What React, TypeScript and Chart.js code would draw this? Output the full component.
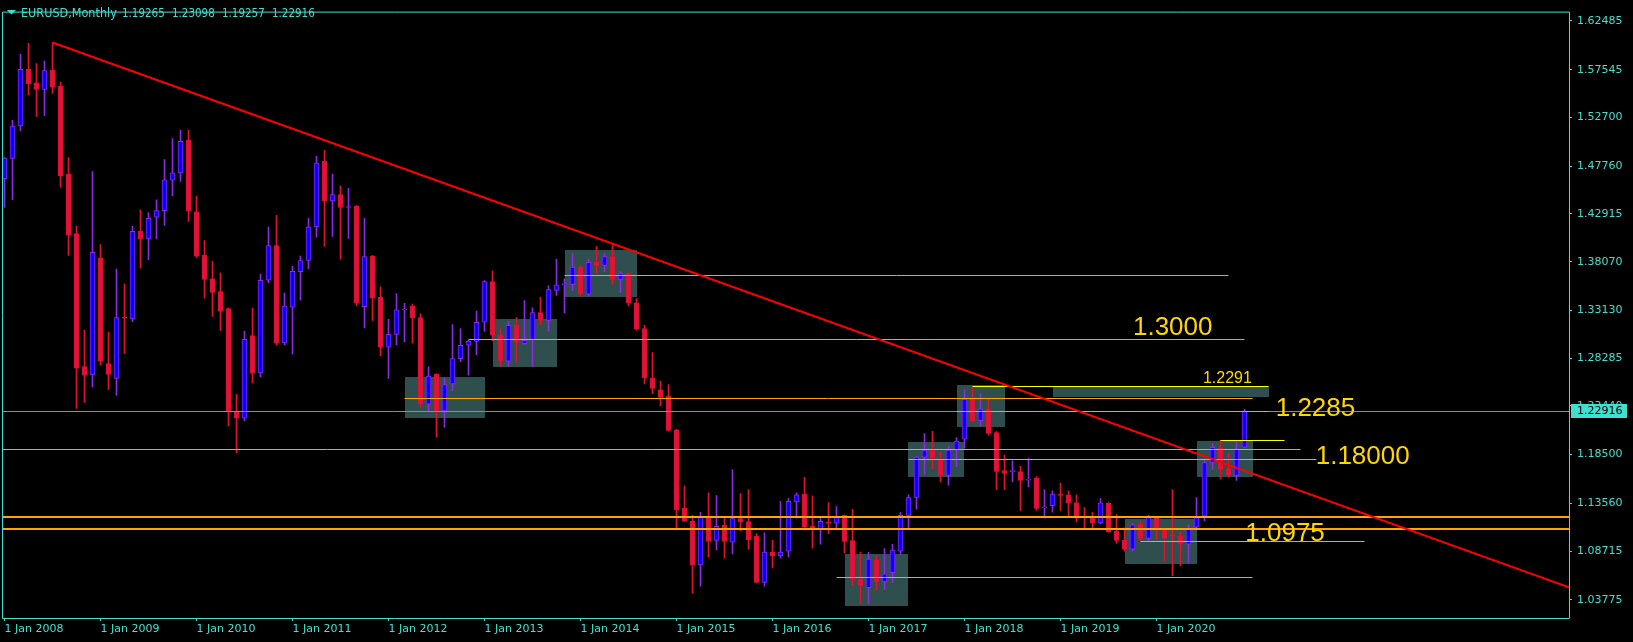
import React, { useEffect, useRef } from "react";
import { Chart, registerables } from "chart.js";

Chart.register(...registerables);

// ---------- DATA (EURUSD monthly, Jan 2008 .. Dec 2020) ----------
const opens = [
  1.4648, 1.4854, 1.5185, 1.5758, 1.562, 1.5553, 1.575, 1.5588, 1.4692, 1.4092, 1.2742, 1.2658,
  1.3843, 1.2773, 1.2623, 1.3239, 1.3227, 1.4115, 1.4037, 1.4258, 1.4325, 1.4633, 1.4708, 1.5039,
  1.4313, 1.3871, 1.3634, 1.3504, 1.333, 1.2284, 1.222, 1.3057, 1.2678, 1.3618, 1.3969, 1.2982,
  1.3346, 1.3705, 1.3819, 1.4159, 1.4826, 1.4423, 1.4487, 1.4356, 1.4368, 1.335, 1.3863, 1.3444,
  1.2939, 1.3069, 1.3318, 1.3357, 1.3239, 1.2362, 1.2666, 1.2292, 1.2568, 1.2824, 1.2959, 1.2998,
  1.3192, 1.3606, 1.3061, 1.2797, 1.316, 1.2974, 1.3018, 1.329, 1.3211, 1.3515, 1.3574, 1.3575,
  1.3752, 1.3476, 1.38, 1.3768, 1.3859, 1.3626, 1.3685, 1.3389, 1.3128, 1.2627, 1.2508, 1.2442,
  1.2102, 1.1304, 1.1174, 1.0732, 1.1217, 1.098, 1.1135, 1.0961, 1.1202, 1.117, 1.102, 1.0554,
  1.0858, 1.0823, 1.087, 1.1371, 1.145, 1.1123, 1.1095, 1.1162, 1.1154, 1.1233, 1.0977, 1.0586,
  1.0499, 1.0783, 1.0562, 1.0653, 1.087, 1.1233, 1.1415, 1.1825, 1.1897, 1.1798, 1.164, 1.1897,
  1.2007, 1.241, 1.2193, 1.2311, 1.2074, 1.1687, 1.1677, 1.1679, 1.1591, 1.1612, 1.131, 1.1332,
  1.145, 1.1442, 1.136, 1.1225, 1.1214, 1.1158, 1.1356, 1.1075, 1.098, 1.089, 1.1146, 1.1,
  1.1217, 1.1087, 1.1032, 1.102, 1.0941, 1.1115, 1.1225, 1.177, 1.1916, 1.1707, 1.164, 1.19265,
];
const highs = [
  1.4866, 1.5241, 1.5912, 1.6022, 1.5817, 1.5841, 1.603, 1.5628, 1.4862, 1.4167, 1.3113, 1.472,
  1.3981, 1.3093, 1.3732, 1.3582, 1.4167, 1.4333, 1.4305, 1.4435, 1.4842, 1.5055, 1.5142, 1.5142,
  1.4471, 1.4021, 1.3811, 1.3693, 1.3338, 1.2461, 1.3101, 1.3334, 1.3681, 1.4159, 1.4277, 1.3488,
  1.376, 1.3863, 1.4246, 1.4877, 1.4937, 1.4696, 1.4577, 1.455, 1.4376, 1.4246, 1.3871, 1.3551,
  1.3223, 1.3484, 1.3385, 1.3377, 1.3278, 1.2741, 1.267, 1.2627, 1.3168, 1.3128, 1.301, 1.3306,
  1.3614, 1.3713, 1.3128, 1.3199, 1.3239, 1.3413, 1.3338, 1.3448, 1.3563, 1.3831, 1.3634, 1.389,
  1.3772, 1.3831, 1.3961, 1.389, 1.3981, 1.3705, 1.3693, 1.3436, 1.316, 1.2884, 1.2595, 1.256,
  1.2106, 1.1533, 1.1233, 1.1265, 1.1462, 1.1435, 1.1217, 1.1699, 1.1454, 1.1494, 1.1048, 1.1056,
  1.0981, 1.1375, 1.1403, 1.1462, 1.162, 1.1431, 1.1206, 1.1363, 1.1324, 1.1237, 1.1296, 1.0862,
  1.0858, 1.0823, 1.0898, 1.0941, 1.1265, 1.1442, 1.183, 1.2062, 1.2086, 1.1877, 1.1936, 1.2023,
  1.2508, 1.2536, 1.2469, 1.241, 1.2086, 1.1845, 1.1786, 1.1731, 1.181, 1.1628, 1.1494, 1.1482,
  1.1561, 1.1482, 1.1442, 1.1312, 1.1265, 1.1403, 1.1363, 1.1241, 1.1107, 1.1154, 1.1178, 1.1233,
  1.1225, 1.1095, 1.1494, 1.1067, 1.1138, 1.1415, 1.1798, 1.1956, 1.1995, 1.1865, 1.1983, 1.23098,
];
const lows = [
  1.4356, 1.4435, 1.5134, 1.5501, 1.528, 1.5288, 1.5513, 1.4562, 1.3871, 1.2319, 1.2378, 1.2536,
  1.2757, 1.2509, 1.2449, 1.2876, 1.3199, 1.374, 1.3827, 1.4037, 1.4175, 1.4475, 1.4621, 1.4214,
  1.3847, 1.3436, 1.3251, 1.3109, 1.2141, 1.1869, 1.2193, 1.2576, 1.2639, 1.3594, 1.2963, 1.2963,
  1.2868, 1.3417, 1.3736, 1.4056, 1.3965, 1.4064, 1.3831, 1.4044, 1.3357, 1.3136, 1.3211, 1.2852,
  1.2623, 1.2963, 1.2994, 1.2982, 1.2331, 1.2284, 1.2027, 1.2126, 1.2497, 1.2793, 1.2655, 1.2864,
  1.31, 1.3002, 1.2745, 1.2745, 1.2785, 1.297, 1.2745, 1.3168, 1.3101, 1.3464, 1.3286, 1.3515,
  1.3456, 1.3456, 1.3693, 1.3705, 1.3575, 1.3496, 1.3357, 1.3113, 1.2568, 1.2469, 1.2343, 1.209,
  1.1087, 1.117, 1.0448, 1.0515, 1.0811, 1.0882, 1.0799, 1.0842, 1.1079, 1.089, 1.055, 1.0515,
  1.07, 1.0799, 1.0811, 1.1206, 1.1087, 1.0902, 1.0941, 1.1048, 1.1087, 1.085, 1.0523, 1.0337,
  1.0337, 1.0475, 1.0483, 1.0554, 1.0838, 1.1107, 1.1296, 1.1652, 1.1707, 1.1573, 1.1541, 1.1731,
  1.1916, 1.2185, 1.2141, 1.2047, 1.1494, 1.1494, 1.1573, 1.1285, 1.1521, 1.1285, 1.1206, 1.1265,
  1.1285, 1.1225, 1.1166, 1.1099, 1.1099, 1.1146, 1.106, 1.0949, 1.087, 1.087, 1.098, 1.098,
  1.0988, 1.0771, 1.0621, 1.072, 1.0752, 1.1087, 1.1178, 1.1699, 1.16, 1.162, 1.1589, 1.19257,
];
const closes = [
  1.4858, 1.5181, 1.5758, 1.5612, 1.5553, 1.5746, 1.558, 1.468, 1.408, 1.2726, 1.2655, 1.3902,
  1.2797, 1.2662, 1.3239, 1.3233, 1.4115, 1.4037, 1.4246, 1.4325, 1.4637, 1.4708, 1.5027, 1.4325,
  1.3863, 1.3626, 1.3496, 1.3306, 1.2284, 1.222, 1.3018, 1.2678, 1.3618, 1.3969, 1.2982, 1.3357,
  1.3709, 1.3819, 1.4159, 1.4806, 1.4423, 1.4487, 1.4356, 1.4362, 1.3389, 1.3859, 1.3436, 1.2939,
  1.3069, 1.3318, 1.3326, 1.3239, 1.2362, 1.2647, 1.2292, 1.256, 1.2824, 1.2959, 1.2998, 1.3192,
  1.3606, 1.3061, 1.2797, 1.316, 1.299, 1.301, 1.329, 1.3211, 1.3523, 1.3571, 1.3585, 1.3752,
  1.3476, 1.38, 1.3768, 1.3859, 1.3626, 1.3685, 1.3389, 1.3128, 1.2627, 1.252, 1.243, 1.2094,
  1.1289, 1.1178, 1.0732, 1.1217, 1.0969, 1.1123, 1.0969, 1.1202, 1.117, 1.0988, 1.0554, 1.0862,
  1.0823, 1.0862, 1.1375, 1.1442, 1.1119, 1.1095, 1.1174, 1.1154, 1.1225, 1.0969, 1.0586, 1.0523,
  1.0791, 1.0562, 1.0641, 1.0882, 1.1233, 1.1415, 1.1825, 1.1897, 1.181, 1.164, 1.1897, 1.1987,
  1.241, 1.2193, 1.2311, 1.2066, 1.1679, 1.166, 1.1681, 1.1589, 1.1594, 1.1304, 1.1313, 1.145,
  1.1439, 1.1363, 1.1206, 1.1214, 1.1158, 1.136, 1.1067, 1.098, 1.089, 1.1138, 1.1, 1.1217,
  1.1087, 1.1008, 1.1028, 1.0941, 1.1095, 1.1225, 1.177, 1.1924, 1.1707, 1.164, 1.1908, 1.22916,
];

// x ticks (bar index of each January) and their labels
const yearTickIndex = [0, 12, 24, 36, 48, 60, 72, 84, 96, 108, 120, 132, 144];
const yearTickLabels = [
  "1 Jan 2008", "1 Jan 2009", "1 Jan 2010", "1 Jan 2011", "1 Jan 2012", "1 Jan 2013", "1 Jan 2014",
  "1 Jan 2015", "1 Jan 2016", "1 Jan 2017", "1 Jan 2018", "1 Jan 2019", "1 Jan 2020",
];
// price axis ticks
const priceTicks = [
  1.62485, 1.57545, 1.527, 1.4776, 1.42915, 1.3807, 1.3313, 1.28285, 1.2344, 1.185, 1.1356, 1.08715, 1.03775,
];

// header
const symbolName = "EURUSD,Monthly";
const headerValues = [1.19265, 1.23098, 1.19257, 1.22916];
const currentPrice = 1.22916;

// zones (bar index range, price range)
const zoneFrom = [50, 61, 70, 105, 113, 119, 131, 140, 149];
const zoneTo = [60, 69, 79, 113, 120, 125, 158, 149, 156];
const zoneTop = [1.2635, 1.3223, 1.3922, 1.0846, 1.1976, 1.2552, 1.2548, 1.1194, 1.1983];
const zoneBottom = [1.2225, 1.2737, 1.3448, 1.0317, 1.162, 1.213, 1.2437, 1.074, 1.162];

// orange levels (price, bar index range)
const levelPrice = [1.3669, 1.3018, 1.2422, 1.229, 1.1904, 1.1802, 1.1217, 1.1099, 1.0973, 1.0613];
const levelFrom = [70, 58, 50, 119, -1, 113, -1, -1, 142, 104];
const levelTo = [153, 155, 156, 158, 162, 164, 999, 999, 170, 156];
const levelBold = [false, false, false, false, false, false, true, true, false, false];

// yellow markers
const markerPrice = [1.2548, 1.1999];
const markerFrom = [121, 152];
const markerTo = [158, 160];

// trend line: two anchor points (bar index, price), extended to the right
const trendIndex = [6, 150];
const trendPrice = [1.603, 1.1832];

// text labels
const labelText = ["1.3000", "1.2291", "1.2285", "1.18000", "1.0975"];
const labelIndex = [141.06, 149.8, 158.9, 163.9, 155.1];
const labelPrice = [1.3068, 1.2573, 1.2239, 1.175, 1.0974];

// ---------- STYLE ----------
const TURQ = "#40E0D0";
const BULL_FILL = "#0000FF";
const BULL_EDGE = "#8A2BE2";
const BEAR_FILL = "#DC143C";
const BEAR_EDGE = "#E0102E";
const ORANGE = "#FFA500";
const GOLD = "#FFD700";
const YELLOW = "#FFFF00";
const ZONE = "#2F4F4F";
const AXIS_FONT = "DejaVu Sans";
const BIG_FONT = "Liberation Sans";

const overlayPlugin = {
  id: "overlay",
  beforeDraw(chart: any) {
    const ctx = chart.ctx;
    ctx.save();
    ctx.fillStyle = "#000";
    ctx.fillRect(0, 0, chart.width, chart.height);
    ctx.restore();
  },
  beforeDatasetsDraw(chart: any) {
    const { ctx, chartArea: a, scales } = chart;
    const xs = scales.x, ys = scales.y;
    ctx.save();
    ctx.beginPath();
    ctx.rect(a.left, a.top, a.right - a.left, a.bottom - a.top);
    ctx.clip();
    ctx.fillStyle = ZONE;
    for (let k = 0; k < zoneFrom.length; k++) {
      const x1 = Math.round(xs.getPixelForValue(zoneFrom[k]));
      const x2 = Math.round(xs.getPixelForValue(zoneTo[k]));
      const y1 = Math.round(ys.getPixelForValue(zoneTop[k]));
      const y2 = Math.round(ys.getPixelForValue(zoneBottom[k]));
      ctx.fillRect(x1, y1, x2 - x1, y2 - y1);
    }
    ctx.restore();
  },
  afterDatasetsDraw(chart: any) {
    const { ctx, chartArea: a, scales } = chart;
    const xs = scales.x, ys = scales.y;
    ctx.save();
    ctx.beginPath();
    ctx.rect(a.left, a.top, a.right - a.left, a.bottom - a.top);
    ctx.clip();

    // current price line
    const cp = Math.round(ys.getPixelForValue(currentPrice)) + 0.5;
    ctx.strokeStyle = "#8c8c8c";
    ctx.lineWidth = 1;
    ctx.beginPath();
    ctx.moveTo(a.left, cp);
    ctx.lineTo(a.right, cp);
    ctx.stroke();

    // orange levels
    ctx.strokeStyle = ORANGE;
    for (let k = 0; k < levelPrice.length; k++) {
      const w = levelBold[k] ? 2 : 1;
      const y = Math.round(ys.getPixelForValue(levelPrice[k])) + (w === 1 ? 0.5 : 0);
      const x1 = Math.max(a.left, xs.getPixelForValue(levelFrom[k]));
      const x2 = Math.min(a.right, xs.getPixelForValue(levelTo[k]));
      ctx.lineWidth = w;
      ctx.beginPath();
      ctx.moveTo(x1, y);
      ctx.lineTo(x2, y);
      ctx.stroke();
    }

    // yellow markers
    ctx.strokeStyle = YELLOW;
    ctx.lineWidth = 1;
    for (let k = 0; k < markerPrice.length; k++) {
      const y = Math.round(ys.getPixelForValue(markerPrice[k])) + 0.5;
      ctx.beginPath();
      ctx.moveTo(xs.getPixelForValue(markerFrom[k]), y);
      ctx.lineTo(xs.getPixelForValue(markerTo[k]), y);
      ctx.stroke();
    }

    // trend line (ray)
    const tx1 = xs.getPixelForValue(trendIndex[0]);
    const ty1 = ys.getPixelForValue(trendPrice[0]);
    const tx2 = xs.getPixelForValue(trendIndex[1]);
    const ty2 = ys.getPixelForValue(trendPrice[1]);
    const slope = (ty2 - ty1) / (tx2 - tx1);
    ctx.strokeStyle = "#FF0000";
    ctx.lineWidth = 2;
    ctx.beginPath();
    ctx.moveTo(tx1, ty1);
    ctx.lineTo(a.right, ty1 + slope * (a.right - tx1));
    ctx.stroke();
    ctx.restore();

    // text labels
    ctx.save();
    ctx.fillStyle = GOLD;
    ctx.textBaseline = "alphabetic";
    ctx.textAlign = "left";
    for (let k = 0; k < labelText.length; k++) {
      const size = labelText[k] === "1.2291" ? 16 : 26;
      ctx.font = `${size}px "${BIG_FONT}"`;
      ctx.fillText(labelText[k], xs.getPixelForValue(labelIndex[k]), ys.getPixelForValue(labelPrice[k]));
    }
    ctx.restore();
  },
  afterDraw(chart: any) {
    const { ctx, chartArea: a, scales } = chart;
    const ys = scales.y;
    ctx.save();
    // frame
    ctx.strokeStyle = TURQ;
    ctx.lineWidth = 1;
    ctx.beginPath();
    ctx.moveTo(a.left - 0.5, a.top + 0.5);
    ctx.lineTo(a.right + 0.5, a.top + 0.5);
    ctx.lineTo(a.right + 0.5, a.bottom + 0.5);
    ctx.lineTo(a.left - 0.5, a.bottom + 0.5);
    ctx.closePath();
    ctx.stroke();

    // header
    ctx.fillStyle = TURQ;
    ctx.beginPath();
    ctx.moveTo(7, 10);
    ctx.lineTo(16, 10);
    ctx.lineTo(11.5, 14.5);
    ctx.closePath();
    ctx.fill();
    ctx.textBaseline = "alphabetic";
    ctx.textAlign = "left";
    ctx.font = `12.5px "DejaVu Sans Condensed", "${AXIS_FONT}"`;
    ctx.fillText(symbolName, 21, 17);
    ctx.font = `11.5px "DejaVu Sans Condensed", "${AXIS_FONT}"`;
    headerValues.forEach((v, k) => ctx.fillText(v.toFixed(5), 122 + 50 * k, 17));

    // current price tag
    const py = Math.round(ys.getPixelForValue(currentPrice));
    ctx.fillStyle = TURQ;
    ctx.fillRect(a.right + 2, py - 7, 56, 14);
    ctx.fillStyle = "#000";
    ctx.textBaseline = "middle";
    ctx.font = `11px "${AXIS_FONT}"`;
    ctx.fillText(currentPrice.toFixed(5), a.right + 8, py + 0.5);
    ctx.restore();
  },
};

export default function App() {
  const ref = useRef<HTMLCanvasElement>(null);
  useEffect(() => {
    const canvas = ref.current;
    if (!canvas) return;
    const bull = opens.map((o, i) => closes[i] >= o);
    const wickData = opens.map((_, i) => ({ x: i, y: [lows[i], highs[i]] }));
    const bodyData = opens.map((o, i) => ({ x: i, y: [Math.min(o, closes[i]), Math.max(o, closes[i])] }));

    const chart = new Chart(canvas, {
      type: "bar",
      data: {
        datasets: [
          {
            label: "body",
            data: bodyData as any,
            backgroundColor: bull.map((b) => (b ? BULL_FILL : BEAR_FILL)),
            borderColor: bull.map((b) => (b ? BULL_EDGE : BEAR_EDGE)),
            borderWidth: 1,
            borderSkipped: false,
            barThickness: 5,
            minBarLength: 1,
            grouped: false,
            order: 0,
          } as any,
          {
            label: "wick",
            data: wickData as any,
            backgroundColor: bull.map((b) => (b ? BULL_EDGE : BEAR_EDGE)),
            borderWidth: 0,
            barThickness: 1,
            grouped: false,
            order: 1,
          } as any,
        ],
      },
      options: {
        responsive: false,
        maintainAspectRatio: false,
        animation: false,
        devicePixelRatio: 1,
        events: [],
        layout: { padding: { top: 2, left: 3, right: 0, bottom: 0 } },
        plugins: { legend: { display: false }, tooltip: { enabled: false } },
        scales: {
          x: {
            type: "linear",
            min: -0.1875,
            max: 195.5625,
            offset: false,
            afterBuildTicks: (s: any) => {
              s.ticks = yearTickIndex.map((v) => ({ value: v }));
            },
            afterFit: (s: any) => {
              s.height = 24;
            },
            grid: { display: true, drawOnChartArea: false, drawTicks: true, tickLength: 3, color: TURQ, lineWidth: 1, offset: false },
            border: { display: false },
            ticks: {
              color: TURQ,
              font: { family: AXIS_FONT, size: 11 },
              align: "start",
              maxRotation: 0,
              minRotation: 0,
              autoSkip: false,
              padding: 2,
              callback: (_v: any, idx: number) => yearTickLabels[idx],
            },
          },
          y: {
            type: "linear",
            position: "right",
            min: 1.01926,
            max: 1.63434,
            afterBuildTicks: (s: any) => {
              s.ticks = priceTicks.map((v) => ({ value: v }));
            },
            afterFit: (s: any) => {
              s.width = 64;
            },
            grid: { display: true, drawOnChartArea: false, drawTicks: true, tickLength: 3, color: TURQ, lineWidth: 1 },
            border: { display: false },
            ticks: {
              color: TURQ,
              font: { family: AXIS_FONT, size: 11 },
              padding: 5,
              autoSkip: false,
              callback: (v: any) => Number(v).toFixed(5),
            },
          },
        },
      } as any,
      plugins: [overlayPlugin],
    });
    return () => chart.destroy();
  }, []);

  return (
    <div style={{ position: "fixed", left: 0, top: 0, width: 1633, height: 642, background: "#000" }}>
      <canvas ref={ref} width={1633} height={642} style={{ display: "block", width: 1633, height: 642 }} />
    </div>
  );
}
